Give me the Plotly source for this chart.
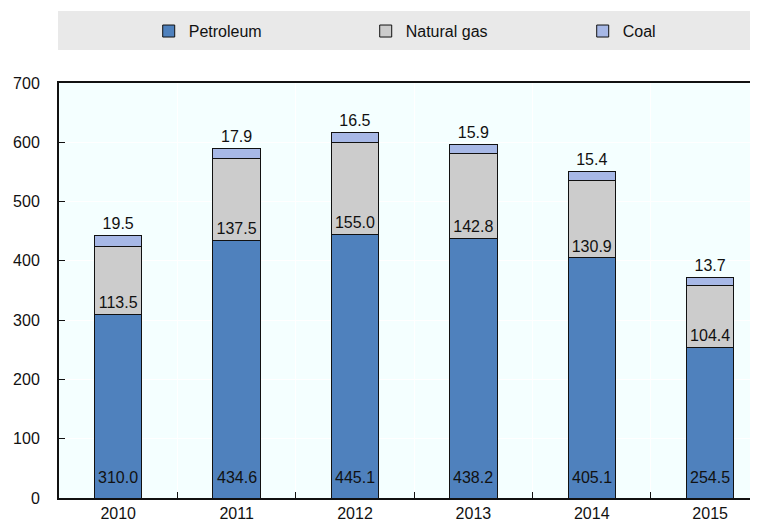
import plotly.graph_objects as go

years = ["2010", "2011", "2012", "2013", "2014", "2015"]
petroleum = [310.0, 434.6, 445.1, 438.2, 405.1, 254.5]
natural_gas = [113.5, 137.5, 155.0, 142.8, 130.9, 104.4]
coal = [19.5, 17.9, 16.5, 15.9, 15.4, 13.7]

FONT = "Liberation Sans, Arial, sans-serif"
TXT = dict(family=FONT, size=16, color="#111111")

fig = go.Figure()
fig.add_trace(go.Bar(
    name="Petroleum", x=years, y=petroleum,
    marker=dict(color="#4F81BD", line=dict(color="#111111", width=1)),
    width=0.4,
))
fig.add_trace(go.Bar(
    name="Natural gas", x=years, y=natural_gas,
    marker=dict(color="#CCCCCC", line=dict(color="#111111", width=1)),
    text=[f"{v:.1f}" for v in natural_gas], textposition="inside",
    insidetextanchor="start", textfont=TXT, constraintext="none",
    width=0.4, cliponaxis=False,
))
fig.add_trace(go.Bar(
    name="Coal", x=years, y=coal,
    marker=dict(color="#A7B8E6", line=dict(color="#111111", width=1)),
    text=[f"{v:.1f}" for v in coal], textposition="outside",
    textfont=TXT, constraintext="none",
    width=0.4, cliponaxis=False,
))

# Petroleum value labels, anchored at the base of each bar (category index on x)
for i, v in enumerate(petroleum):
    fig.add_annotation(x=i, y=0, xref="x", yref="y", text=f"{v:.1f}",
                       showarrow=False, yanchor="bottom", yshift=10,
                       font=TXT)

fig.update_layout(
    width=750, height=513,
    barmode="stack",
    margin=dict(l=51, r=0, t=75, b=23, pad=0, autoexpand=False),
    paper_bgcolor="white",
    plot_bgcolor="#F4FFFF",
    font=dict(family=FONT, size=16, color="#111111"),
    showlegend=True,
    legend=dict(
        orientation="h", x=0.594, xanchor="center", y=1.125, yanchor="middle",
        bgcolor="rgba(0,0,0,0)", font=dict(family=FONT, size=16, color="#111111"),
        entrywidth=172, entrywidthmode="pixels", traceorder="normal",
        itemclick=False,
    ),
    shapes=[dict(type="rect", xref="paper", yref="paper",
                 x0=-0.0014, x1=1.0, y0=1.0795, y1=1.1735,
                 fillcolor="#E9E9E9", line=dict(width=0), layer="below")],
)
fig.update_xaxes(
    type="category", range=[-0.5, 5.404], automargin=False,
    tickson="boundaries", ticks="inside", ticklen=6, tickwidth=1, tickcolor="#111111",
    showgrid=True, gridcolor="white", gridwidth=1,
    showline=True, linecolor="#111111", linewidth=2, mirror=True,
    tickfont=dict(family=FONT, size=16, color="#111111"),
    fixedrange=True,
)
fig.update_yaxes(
    range=[0, 700], dtick=100, tick0=0, automargin=False,
    ticks="inside", ticklen=6, tickwidth=1, tickcolor="#111111",
    showgrid=True, gridcolor="white", gridwidth=1,
    showline=True, linecolor="#111111", linewidth=2,
    tickfont=dict(family=FONT, size=16, color="#111111"),
    ticklabelstandoff=14, zeroline=False,
    fixedrange=True,
)

fig.write_html("out.html")
